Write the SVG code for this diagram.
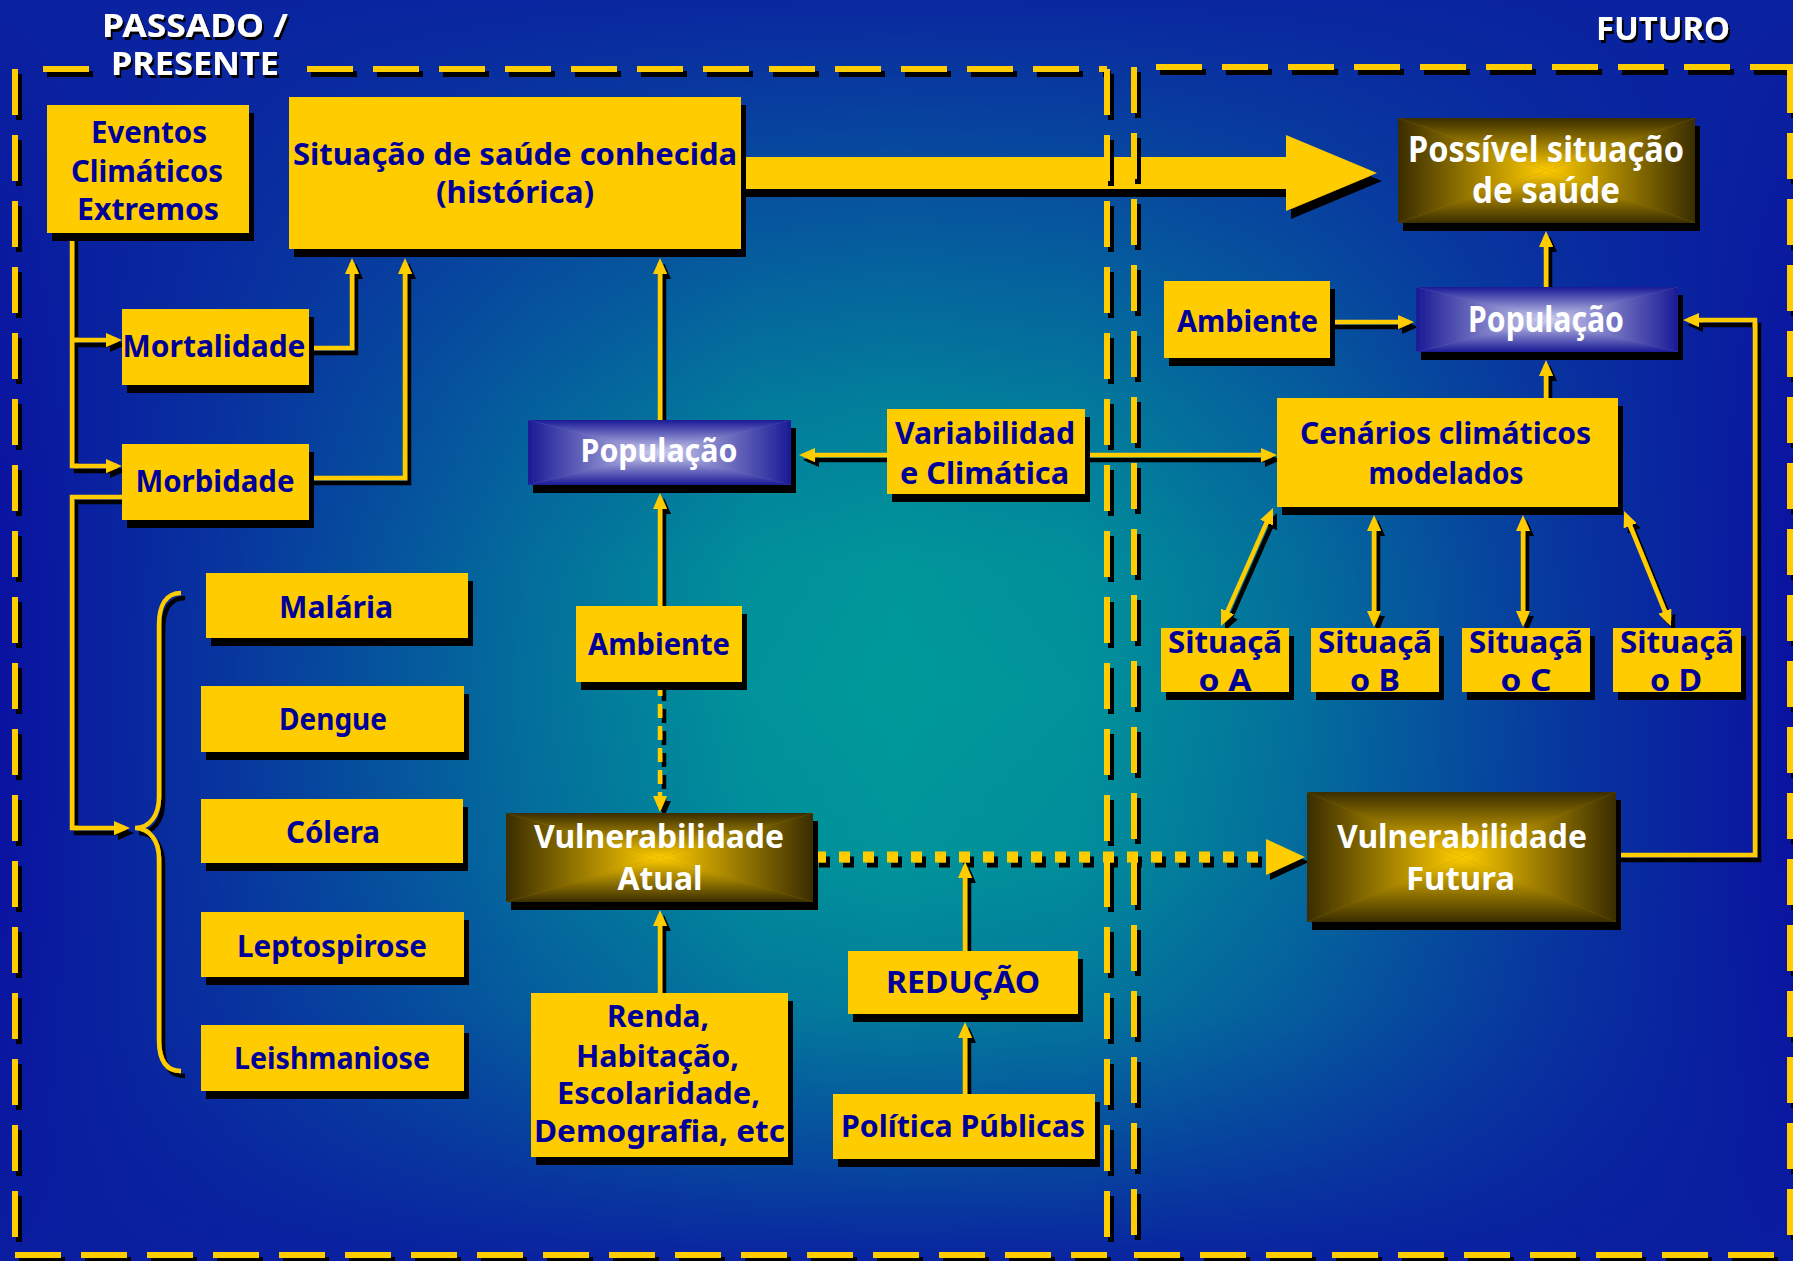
<svg xmlns="http://www.w3.org/2000/svg" width="1793" height="1261" viewBox="0 0 1793 1261">
<defs>
<linearGradient id="bgH" x1="0" y1="0" x2="1" y2="0">
<stop offset="0" stop-color="#0a12a0" stop-opacity="1"/>
<stop offset="0.12" stop-color="#0a12a0" stop-opacity="0.75"/>
<stop offset="0.3" stop-color="#0a12a0" stop-opacity="0.3"/>
<stop offset="0.42" stop-color="#0a12a0" stop-opacity="0.05"/>
<stop offset="0.5" stop-color="#0a12a0" stop-opacity="0"/>
<stop offset="0.6" stop-color="#0a12a0" stop-opacity="0.05"/>
<stop offset="0.72" stop-color="#0a12a0" stop-opacity="0.3"/>
<stop offset="0.88" stop-color="#0a12a0" stop-opacity="0.75"/>
<stop offset="1" stop-color="#0a12a0" stop-opacity="1"/>
</linearGradient>
<linearGradient id="bgV" x1="0" y1="0" x2="0" y2="1">
<stop offset="0" stop-color="#0a22a0" stop-opacity="0.95"/>
<stop offset="0.15" stop-color="#0a22a0" stop-opacity="0.6"/>
<stop offset="0.32" stop-color="#0a22a0" stop-opacity="0.22"/>
<stop offset="0.45" stop-color="#0a22a0" stop-opacity="0.03"/>
<stop offset="0.55" stop-color="#0a22a0" stop-opacity="0"/>
<stop offset="0.68" stop-color="#0a22a0" stop-opacity="0.05"/>
<stop offset="0.8" stop-color="#0a22a0" stop-opacity="0.25"/>
<stop offset="0.92" stop-color="#0a1ea0" stop-opacity="0.65"/>
<stop offset="1" stop-color="#0a1ea0" stop-opacity="0.95"/>
</linearGradient>
<linearGradient id="yT" x1="0" y1="0" x2="0" y2="1"><stop offset="0" stop-color="#3a2d00"/><stop offset="1" stop-color="#ffcc00"/></linearGradient>
<linearGradient id="yB" x1="0" y1="1" x2="0" y2="0"><stop offset="0" stop-color="#3a2d00"/><stop offset="1" stop-color="#ffcc00"/></linearGradient>
<linearGradient id="yL" x1="0" y1="0" x2="1" y2="0"><stop offset="0" stop-color="#3a2d00"/><stop offset="1" stop-color="#ffcc00"/></linearGradient>
<linearGradient id="yR" x1="1" y1="0" x2="0" y2="0"><stop offset="0" stop-color="#3a2d00"/><stop offset="1" stop-color="#ffcc00"/></linearGradient>
<linearGradient id="pT" x1="0" y1="0" x2="0" y2="1"><stop offset="0" stop-color="#1a1a96"/><stop offset="1" stop-color="#d0d0f0"/></linearGradient>
<linearGradient id="pB" x1="0" y1="1" x2="0" y2="0"><stop offset="0" stop-color="#1a1a96"/><stop offset="1" stop-color="#d0d0f0"/></linearGradient>
<linearGradient id="pL" x1="0" y1="0" x2="1" y2="0"><stop offset="0" stop-color="#1a1a96"/><stop offset="1" stop-color="#d0d0f0"/></linearGradient>
<linearGradient id="pR" x1="1" y1="0" x2="0" y2="0"><stop offset="0" stop-color="#1a1a96"/><stop offset="1" stop-color="#d0d0f0"/></linearGradient>
<filter id="sh" filterUnits="userSpaceOnUse" x="0" y="0" width="1793" height="1261">
<feOffset in="SourceAlpha" dx="5" dy="8" result="o"/>
<feMerge><feMergeNode in="o"/><feMergeNode in="SourceGraphic"/></feMerge>
</filter>
<filter id="shl" filterUnits="userSpaceOnUse" x="0" y="0" width="1793" height="1261">
<feOffset in="SourceAlpha" dx="4" dy="5" result="o"/>
<feMerge><feMergeNode in="o"/><feMergeNode in="SourceGraphic"/></feMerge>
</filter>
<filter id="sht" filterUnits="userSpaceOnUse" x="0" y="0" width="1793" height="1261">
<feOffset in="SourceAlpha" dx="2" dy="3" result="o"/>
<feMerge><feMergeNode in="o"/><feMergeNode in="SourceGraphic"/></feMerge>
</filter>
<marker id="ah" viewBox="0 0 16 14" refX="11" refY="7" markerWidth="16" markerHeight="14" markerUnits="userSpaceOnUse" orient="auto-start-reverse">
<path d="M0,0 L16,7 L0,14 z" fill="#ffcc00"/>
</marker>
<style>
.box{fill:#ffcc00}
.t{font-family:"Noto Sans","DejaVu Sans",sans-serif;font-weight:700;font-size:31px;fill:#000099;text-anchor:middle}
.w{font-family:"Noto Sans","DejaVu Sans",sans-serif;font-weight:700;font-size:33px;fill:#ffffff;text-anchor:middle}
.ttl{font-family:"Noto Sans","DejaVu Sans",sans-serif;font-weight:700;font-size:33px;fill:#ffffff;text-anchor:middle}
.ln{fill:none;stroke:#ffcc00;stroke-width:4.5}
.arr{marker-end:url(#ah)}
.dbl{marker-start:url(#ah);marker-end:url(#ah)}
.bd{fill:none;stroke:#ffcc00;stroke-width:6;stroke-dasharray:46 20}
</style>
</defs>

<g id="background">
<rect width="1793" height="1261" fill="#009a9a"/>
<rect width="1793" height="1261" fill="url(#bgH)"/>
<rect width="1793" height="1261" fill="url(#bgV)"/>
</g>

<g id="connectors">
<g filter="url(#shl)">
<path class="ln arr" d="M72 233 V466 H117"/>
<path class="ln arr" d="M72 340 H117"/>
<path class="ln arr" d="M309 348 H352 V263"/>
<path class="ln arr" d="M309 478 H405 V263"/>
<path class="ln arr" d="M122 497 H72 V828 H125"/>
<path class="ln" d="M181 593 C166 593 159 605 159 625 L159 797 C159 815 150 828 135 828 C150 828 159 841 159 859 L159 1040 C159 1060 166 1071 181 1071"/>
<path class="ln arr" d="M660 420 V263"/>
<path class="ln arr" d="M660 606 V498"/>
<path class="ln arr" d="M660 682 V807" stroke-dasharray="14 8"/>
<path class="ln arr" d="M660 993 V915"/>
<path class="ln arr" d="M965 1094 V1027"/>
<path class="ln arr" d="M965 951 V867"/>
<path class="ln arr" d="M887 455 H804"/>
<path class="ln arr" d="M1085 455 H1272"/>
<path class="ln dbl" d="M1271 512.6 L1223 621.4"/>
<path class="ln dbl" d="M1374 520 V622"/>
<path class="ln dbl" d="M1523 520 V622"/>
<path class="ln dbl" d="M1626 515.6 L1669 621.4"/>
<path class="ln arr" d="M1546 398 V365"/>
<path class="ln arr" d="M1546 287 V236"/>
<path class="ln arr" d="M1330 322 H1409"/>
<path class="ln arr" d="M1616 855 H1755 V320 H1688"/>
<path fill="none" stroke="#ffcc00" stroke-width="11" stroke-dasharray="11 13" d="M815 857 H1266"/>
<polygon fill="#ffcc00" points="1266,839 1305,857 1266,875"/>
</g>
<polygon fill="#ffcc00" filter="url(#sh)" points="741,157 1286,157 1286,135 1377,173 1286,211 1286,189 741,189"/>
</g>

<g id="n-eventos">
<rect class="box" filter="url(#sh)" x="47" y="105" width="202" height="128"/>
<text class="t" x="149" y="143" textLength="116" lengthAdjust="spacingAndGlyphs">Eventos</text>
<text class="t" x="147" y="182" textLength="152" lengthAdjust="spacingAndGlyphs">Climáticos</text>
<text class="t" x="148" y="220" textLength="142" lengthAdjust="spacingAndGlyphs">Extremos</text>
</g>
<g id="n-situacao">
<rect class="box" filter="url(#sh)" x="289" y="97" width="452" height="152"/>
<text class="t" x="515" y="165" textLength="444" lengthAdjust="spacingAndGlyphs">Situação de saúde conhecida</text>
<text class="t" x="515" y="203" textLength="158" lengthAdjust="spacingAndGlyphs">(histórica)</text>
</g>
<g id="n-mortalidade">
<rect class="box" filter="url(#sh)" x="122" y="309" width="187" height="76"/>
<text class="t" x="214" y="357" textLength="183" lengthAdjust="spacingAndGlyphs">Mortalidade</text>
</g>
<g id="n-morbidade">
<rect class="box" filter="url(#sh)" x="122" y="444" width="187" height="76"/>
<text class="t" x="215" y="492" textLength="159" lengthAdjust="spacingAndGlyphs">Morbidade</text>
</g>
<g id="n-malaria">
<rect class="box" filter="url(#sh)" x="206" y="573" width="262" height="65"/>
<text class="t" x="336" y="618" textLength="114" lengthAdjust="spacingAndGlyphs">Malária</text>
</g>
<g id="n-dengue">
<rect class="box" filter="url(#sh)" x="201" y="686" width="263" height="66"/>
<text class="t" x="333" y="730" textLength="108" lengthAdjust="spacingAndGlyphs">Dengue</text>
</g>
<g id="n-colera">
<rect class="box" filter="url(#sh)" x="201" y="799" width="262" height="64"/>
<text class="t" x="333" y="843" textLength="94" lengthAdjust="spacingAndGlyphs">Cólera</text>
</g>
<g id="n-leptospirose">
<rect class="box" filter="url(#sh)" x="201" y="912" width="263" height="65"/>
<text class="t" x="332" y="957" textLength="190" lengthAdjust="spacingAndGlyphs">Leptospirose</text>
</g>
<g id="n-leishmaniose">
<rect class="box" filter="url(#sh)" x="201" y="1025" width="263" height="66"/>
<text class="t" x="332" y="1069" textLength="196" lengthAdjust="spacingAndGlyphs">Leishmaniose</text>
</g>
<g id="n-populacao-atual">
<g filter="url(#sh)">
<rect x="528" y="420" width="263" height="65" fill="#6a6ac0"/>
<polygon fill="url(#pT)" points="528,420 791,420 659.5,452.5"/>
<polygon fill="url(#pB)" points="528,485 791,485 659.5,452.5"/>
<polygon fill="url(#pL)" points="528,420 528,485 659.5,452.5"/>
<polygon fill="url(#pR)" points="791,420 791,485 659.5,452.5"/>
</g>
<text class="w" style="font-size:32px" x="659" y="462" textLength="157" lengthAdjust="spacingAndGlyphs">População</text>
</g>
<g id="n-ambiente-atual">
<rect class="box" filter="url(#sh)" x="576" y="606" width="166" height="76"/>
<text class="t" x="659" y="655" textLength="142" lengthAdjust="spacingAndGlyphs">Ambiente</text>
</g>
<g id="n-vulnerabilidade-atual">
<g filter="url(#sh)">
<rect x="506" y="813" width="307" height="89" fill="#9a7c00"/>
<polygon fill="url(#yT)" points="506,813 813,813 659.5,857.5"/>
<polygon fill="url(#yB)" points="506,902 813,902 659.5,857.5"/>
<polygon fill="url(#yL)" points="506,813 506,902 659.5,857.5"/>
<polygon fill="url(#yR)" points="813,813 813,902 659.5,857.5"/>
</g>
<text class="w" x="659" y="848" textLength="250" lengthAdjust="spacingAndGlyphs">Vulnerabilidade</text>
<text class="w" x="660" y="890" textLength="85" lengthAdjust="spacingAndGlyphs">Atual</text>
</g>
<g id="n-renda">
<rect class="box" filter="url(#sh)" x="531" y="993" width="257" height="164"/>
<text class="t" x="658" y="1027" textLength="102" lengthAdjust="spacingAndGlyphs">Renda,</text>
<text class="t" x="657.5" y="1067" textLength="163" lengthAdjust="spacingAndGlyphs">Habitação,</text>
<text class="t" x="658.5" y="1104" textLength="203" lengthAdjust="spacingAndGlyphs">Escolaridade,</text>
<text class="t" x="659.5" y="1142" textLength="251" lengthAdjust="spacingAndGlyphs">Demografia, etc</text>
</g>
<g id="n-reducao">
<rect class="box" filter="url(#sh)" x="848" y="951" width="230" height="63"/>
<text class="t" x="963" y="993" textLength="154" lengthAdjust="spacingAndGlyphs">REDUÇÃO</text>
</g>
<g id="n-politica">
<rect class="box" filter="url(#sh)" x="833" y="1094" width="262" height="65"/>
<text class="t" x="963" y="1137" textLength="244" lengthAdjust="spacingAndGlyphs">Política Públicas</text>
</g>
<g id="n-variabilidade">
<rect class="box" filter="url(#sh)" x="887" y="409" width="198" height="85"/>
<text class="t" x="985" y="444" textLength="180" lengthAdjust="spacingAndGlyphs">Variabilidad</text>
<text class="t" x="984.5" y="484" textLength="169" lengthAdjust="spacingAndGlyphs">e Climática</text>
</g>
<g id="n-cenarios">
<rect class="box" filter="url(#sh)" x="1277" y="398" width="341" height="109"/>
<text class="t" x="1445.5" y="444" textLength="291" lengthAdjust="spacingAndGlyphs">Cenários climáticos</text>
<text class="t" x="1446" y="484" textLength="155" lengthAdjust="spacingAndGlyphs">modelados</text>
</g>
<g id="n-situacao-a">
<rect class="box" filter="url(#sh)" x="1161" y="628" width="128" height="64"/>
<text class="t" x="1225" y="653" textLength="114" lengthAdjust="spacingAndGlyphs">Situaçã</text>
<text class="t" x="1225" y="691" textLength="53" lengthAdjust="spacingAndGlyphs">o A</text>
</g>
<g id="n-situacao-b">
<rect class="box" filter="url(#sh)" x="1311" y="628" width="128" height="64"/>
<text class="t" x="1375" y="653" textLength="114" lengthAdjust="spacingAndGlyphs">Situaçã</text>
<text class="t" x="1375" y="691" textLength="50" lengthAdjust="spacingAndGlyphs">o B</text>
</g>
<g id="n-situacao-c">
<rect class="box" filter="url(#sh)" x="1462" y="628" width="128" height="64"/>
<text class="t" x="1526" y="653" textLength="114" lengthAdjust="spacingAndGlyphs">Situaçã</text>
<text class="t" x="1526" y="691" textLength="51" lengthAdjust="spacingAndGlyphs">o C</text>
</g>
<g id="n-situacao-d">
<rect class="box" filter="url(#sh)" x="1613" y="628" width="128" height="64"/>
<text class="t" x="1677" y="653" textLength="114" lengthAdjust="spacingAndGlyphs">Situaçã</text>
<text class="t" x="1676" y="691" textLength="52" lengthAdjust="spacingAndGlyphs">o D</text>
</g>
<g id="n-possivel">
<g filter="url(#sh)">
<rect x="1398" y="118" width="297" height="105" fill="#9a7c00"/>
<polygon fill="url(#yT)" points="1398,118 1695,118 1546.5,170.5"/>
<polygon fill="url(#yB)" points="1398,223 1695,223 1546.5,170.5"/>
<polygon fill="url(#yL)" points="1398,118 1398,223 1546.5,170.5"/>
<polygon fill="url(#yR)" points="1695,118 1695,223 1546.5,170.5"/>
</g>
<text class="w" style="font-size:35px" x="1546" y="162" textLength="276" lengthAdjust="spacingAndGlyphs">Possível situação</text>
<text class="w" style="font-size:35px" x="1546" y="203" textLength="148" lengthAdjust="spacingAndGlyphs">de saúde</text>
</g>
<g id="n-populacao-futura">
<g filter="url(#sh)">
<rect x="1416" y="287" width="262" height="65" fill="#6a6ac0"/>
<polygon fill="url(#pT)" points="1416,287 1678,287 1547,319.5"/>
<polygon fill="url(#pB)" points="1416,352 1678,352 1547,319.5"/>
<polygon fill="url(#pL)" points="1416,287 1416,352 1547,319.5"/>
<polygon fill="url(#pR)" points="1678,287 1678,352 1547,319.5"/>
</g>
<text class="w" style="font-size:35px" x="1546" y="332" textLength="156" lengthAdjust="spacingAndGlyphs">População</text>
</g>
<g id="n-ambiente-futuro">
<rect class="box" filter="url(#sh)" x="1164" y="281" width="166" height="77"/>
<text class="t" x="1247.5" y="332" textLength="141" lengthAdjust="spacingAndGlyphs">Ambiente</text>
</g>
<g id="n-vulnerabilidade-futura">
<g filter="url(#sh)">
<rect x="1307" y="792" width="309" height="130" fill="#9a7c00"/>
<polygon fill="url(#yT)" points="1307,792 1616,792 1461.5,857"/>
<polygon fill="url(#yB)" points="1307,922 1616,922 1461.5,857"/>
<polygon fill="url(#yL)" points="1307,792 1307,922 1461.5,857"/>
<polygon fill="url(#yR)" points="1616,792 1616,922 1461.5,857"/>
</g>
<text class="w" x="1462" y="848" textLength="250" lengthAdjust="spacingAndGlyphs">Vulnerabilidade</text>
<text class="w" x="1460.5" y="890" textLength="109" lengthAdjust="spacingAndGlyphs">Futura</text>
</g>

<g id="borders" filter="url(#shl)">
<path class="bd" d="M15 69 V1255"/>
<path class="bd" d="M43 69 H89"/>
<path class="bd" d="M307 69 H1107"/>
<path class="bd" d="M1107 69 V1255"/>
<path class="bd" d="M15 1255 H1107"/>
<path class="bd" d="M1134 67 V1255"/>
<path class="bd" d="M1156 67 H1793"/>
<path class="bd" d="M1790 67 V1255"/>
<path class="bd" d="M1134 1255 H1793"/>
</g>

<g id="titles" filter="url(#sht)">
<text class="ttl" x="195" y="37" textLength="186" lengthAdjust="spacingAndGlyphs">PASSADO /</text>
<text class="ttl" x="195" y="75" textLength="168" lengthAdjust="spacingAndGlyphs">PRESENTE</text>
<text class="ttl" x="1663" y="40" textLength="134" lengthAdjust="spacingAndGlyphs">FUTURO</text>
</g>
</svg>
